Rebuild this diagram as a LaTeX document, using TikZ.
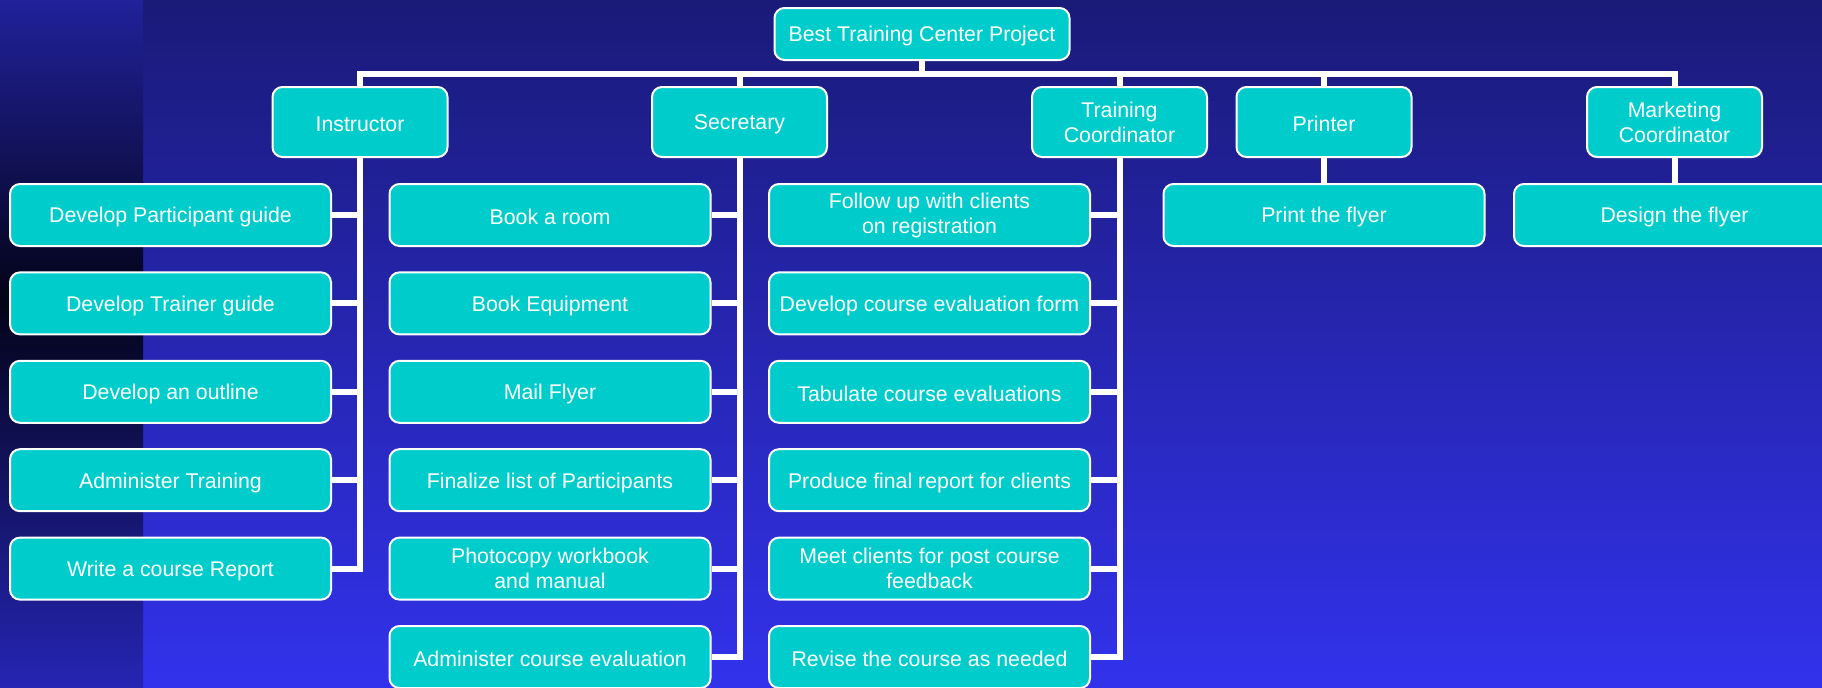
\documentclass[tikz,border=0pt]{standalone}
\usepackage{fontspec}
\setmainfont{Liberation Sans}
\usepackage{tikz}
\usetikzlibrary{shapes}

\definecolor{boxcyan}{RGB}{0,204,204}
\definecolor{bgtop}{RGB}{26,26,120}
\definecolor{bgbot}{RGB}{50,50,236}
\definecolor{bartop}{RGB}{33,33,155}
\definecolor{bardark}{RGB}{3,3,24}
\definecolor{barbot}{RGB}{37,37,180}

\begin{document}
\begin{tikzpicture}[x=0.5pt,y=-0.5pt,
    box/.style={draw=white, line width=1pt, fill=boxcyan, rounded corners=5pt,
      text=white, align=center, inner sep=2pt, font=\fontsize{10.65}{12.5}\selectfont,
      execute at begin node={\rule{0pt}{10pt}}},
    role/.style={box, minimum width=87.5pt, minimum height=35pt},
    task/.style={box, minimum width=160.5pt, minimum height=31pt},
    link/.style={white, line width=3pt}]
        \useasboundingbox (0,0) rectangle (1822,687);
        \shade[top color=bgtop, bottom color=bgbot] (0,0) rectangle (1822,687);
        \shade[top color=bartop, bottom color=bardark] (0,0) rectangle (143,300);
        \shade[top color=bardark, bottom color=barbot] (0,300) rectangle (143,687);

        \node[box, minimum width=147.5pt, minimum height=26pt] (root) at (922,34) {Best Training Center Project};
        \node[role] (ins) at (360,122) {Instructor};
        \node[role] (sec) at (739.5,122) {Secretary};
        \node[role] (tc) at (1119.5,122) {Training\\Coordinator};
        \node[role] (prn) at (1324,122) {Printer};
        \node[role] (mkt) at (1674.5,122) {Marketing\\Coordinator};

        \coordinate (bus) at (922,74);
        \draw[link] (root.south) -- (bus);
        \draw[link] (ins.north) |- (bus) -| (mkt.north);
        \foreach \r in {sec,tc,prn}
          \draw[link] (\r.north) -- (\r.north |- bus);

        \foreach \t [count=\k] in {Develop Participant guide, Develop Trainer guide,
            Develop an outline, Administer Training, Write a course Report}
          \node[task] (i\k) at (170.5,{215+88.4*(\k-1)}) {\t};
        \foreach \t [count=\k] in {Book a room, Book Equipment, Mail Flyer,
            Finalize list of Participants, {Photocopy workbook\\and manual},
            Administer course evaluation}
          \node[task] (s\k) at (550,{215+88.4*(\k-1)}) {\t};
        \foreach \t [count=\k] in {{Follow up with clients\\on registration},
            Develop course evaluation form, Tabulate course evaluations,
            Produce final report for clients, {Meet clients for post course\\feedback},
            Revise the course as needed}
          \node[task] (t\k) at (929.5,{215+88.4*(\k-1)}) {\t};
        \node[task] (pf) at (1324,215) {Print the flyer};
        \node[task] (df) at (1674.5,215) {Design the flyer};

        \draw[link] (ins.south) |- (i5.east);
        \foreach \k in {1,...,4}
          \draw[link] (i\k.east) -- (i\k.east -| ins.south);
        \draw[link] (sec.south) |- (s6.east);
        \draw[link] (tc.south) |- (t6.east);
        \foreach \k in {1,...,5} {
          \draw[link] (s\k.east) -- (s\k.east -| sec.south);
          \draw[link] (t\k.east) -- (t\k.east -| tc.south);
        }
        \draw[link] (prn.south) -- (pf.north);
        \draw[link] (mkt.south) -- (df.north);
    \end{tikzpicture}
\end{document}
